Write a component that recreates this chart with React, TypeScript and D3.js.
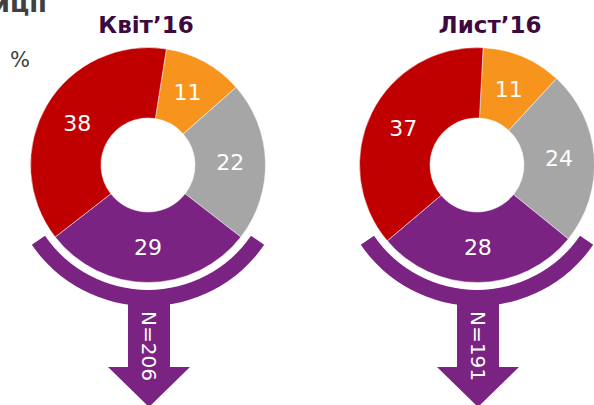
import React from "react";
import * as d3 from "d3";

const periods = ["Квіт’16", "Лист’16"];
const categories = ["cat1", "cat2", "cat3", "cat4"];
const colors = ["#F7941D", "#A6A6A6", "#7B2382", "#C00000"];
const valuesApr = [11, 22, 29, 38];
const valuesNov = [11, 24, 28, 37];
const sampleSizes = [206, 191];
const startDegrees = [9, 3];

const W = 594;
const H = 405;
const centers = [
  { cx: 148, cy: 165, tx: 146 },
  { cx: 477, cy: 165, tx: 490 },
];
const OUTER = 117.5;
const INNER = 47;
const PURPLE = "#7B2382";

function Donut({ idx, values }: { idx: number; values: number[] }) {
  const { cx, cy, tx } = centers[idx];
  const start = (startDegrees[idx] * Math.PI) / 180;
  const pie = d3
    .pie<number>()
    .sort(null)
    .value((d) => d)
    .startAngle(start)
    .endAngle(start + 2 * Math.PI);
  const arcs = pie(values);
  const arcGen = d3.arc<d3.PieArcDatum<number>>().innerRadius(INNER).outerRadius(OUTER);
  const labelArc = d3.arc<d3.PieArcDatum<number>>().innerRadius(INNER).outerRadius(OUTER);

  const half = (55.5 * Math.PI) / 180;
  const bracket = d3.arc()({
    innerRadius: 125,
    outerRadius: 141,
    startAngle: Math.PI - half,
    endAngle: Math.PI + half,
  } as any) as string;

  const ax = cx + 1;
  const stemTop = cy + 132;
  const headY = 367;
  const tipY = 407;
  const arrow = d3.line()([
    [ax - 21, stemTop],
    [ax + 21, stemTop],
    [ax + 21, headY],
    [ax + 41, headY],
    [ax, tipY],
    [ax - 41, headY],
    [ax - 21, headY],
  ]) + "Z";

  return (
    <g>
      <text
        x={tx}
        y={33}
        textAnchor="middle"
        fontFamily="DejaVu Sans"
        fontWeight="bold"
        fontSize={23}
        fill="#3D0A3F"
      >
        {periods[idx]}
      </text>
      <g transform={`translate(${cx},${cy})`}>
        {arcs.map((a, i) => (
          <path key={categories[i]} d={arcGen(a) as string} fill={colors[i]} stroke="#fff" strokeWidth={0.5} />
        ))}
        {arcs.map((a, i) => {
          const [lx, ly] = labelArc.centroid(a);
          return (
            <text
              key={"l" + i}
              x={lx}
              y={ly}
              textAnchor="middle"
              dominantBaseline="central"
              fontFamily="DejaVu Sans"
              fontSize={22}
              fill="#fff"
            >
              {a.data}
            </text>
          );
        })}
        <path d={bracket} fill={PURPLE} />
      </g>
      <path d={arrow} fill={PURPLE} />
      <text
        transform={`translate(${ax},346) rotate(90)`}
        textAnchor="middle"
        dominantBaseline="central"
        fontFamily="DejaVu Sans"
        fontSize={20}
        fill="#fff"
      >
        {`N=${sampleSizes[idx]}`}
      </text>
    </g>
  );
}

export default function App() {
  return (
    <svg
      width={W}
      height={H}
      style={{ position: "fixed", left: 0, top: 0, background: "#fff" }}
    >
      <text
        x={47}
        y={12}
        textAnchor="end"
        fontFamily="DejaVu Sans"
        fontWeight="bold"
        fontSize={26}
        fill="#404040"
      >
        позиції
      </text>
      <text x={10} y={67} fontFamily="DejaVu Sans" fontSize={21} fill="#404040">
        %
      </text>
      <Donut idx={0} values={valuesApr} />
      <Donut idx={1} values={valuesNov} />
    </svg>
  );
}
